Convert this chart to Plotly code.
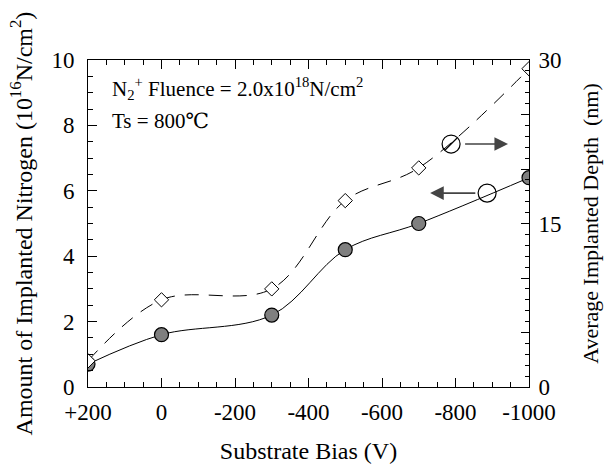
import plotly.graph_objects as go

# Substrate bias (V) and the two measured quantities
bias = [200, 0, -300, -500, -700, -1000]
nitrogen = [0.7, 1.6, 2.2, 4.2, 5.0, 6.4]          # 10^16 N/cm^2 (left axis)
depth = [2.4, 8.0, 9.0, 17.1, 20.1, 29.2]          # nm (right axis)

x_tickvals = [200, 0, -200, -400, -600, -800, -1000]
x_ticktext = ["+200", "0", "-200", "-400", "-600", "-800", "-1000"]
y2_tickvals = [0, 5, 10, 15, 20, 25, 30]
y2_ticktext = ["0", "", "", "15", "", "", "30"]

# key symbols showing which curve belongs to which axis
key_depth = (-788, 7.43)
key_nitro = (-886, 5.93)

FONT = "Liberation Serif, DejaVu Serif, serif"

fig = go.Figure()

fig.add_trace(go.Scatter(
    x=bias, y=depth, yaxis="y2", mode="lines+markers",
    line=dict(color="black", width=1, dash="14px,10px", shape="spline", smoothing=1.0),
    marker=dict(symbol="diamond", size=11, color="white",
                line=dict(color="black", width=1)),
    showlegend=False,
))
fig.add_trace(go.Scatter(
    x=bias, y=nitrogen, mode="lines+markers",
    line=dict(color="black", width=1, shape="spline", smoothing=1.0),
    marker=dict(symbol="circle", size=14, color="#7f7f7f",
                line=dict(color="black", width=1.2)),
    showlegend=False,
))

# open circles used as axis keys
fig.add_trace(go.Scatter(
    x=[key_depth[0], key_nitro[0]], y=[key_depth[1], key_nitro[1]],
    mode="markers",
    marker=dict(symbol="circle-open", size=18, color="black", line=dict(width=1.2)),
    showlegend=False, hoverinfo="skip",
))
fig.add_trace(go.Scatter(
    x=[key_depth[0]], y=[key_depth[1]], mode="markers",
    marker=dict(symbol="line-ne-open", size=12, color="black", line=dict(width=1.2)),
    showlegend=False, hoverinfo="skip",
))

annotations = [
    dict(x=-943, y=key_depth[1], ax=-822, ay=key_depth[1], xref="x", yref="y",
         axref="x", ayref="y", text="", showarrow=True, arrowhead=2,
         arrowsize=1.7, arrowwidth=1.6, arrowcolor="#444444"),
    dict(x=-731, y=key_nitro[1], ax=-858, ay=key_nitro[1], xref="x", yref="y",
         axref="x", ayref="y", text="", showarrow=True, arrowhead=2,
         arrowsize=1.7, arrowwidth=1.6, arrowcolor="#444444"),
    dict(x=0.05, y=0.914, xref="paper", yref="paper", xanchor="left", yanchor="middle",
         text="N<sub>2</sub><sup>+</sup> Fluence = 2.0x10<sup>18</sup>N/cm<sup>2</sup>",
         showarrow=False, font=dict(family=FONT, size=21, color="black")),
    dict(x=0.05, y=0.813, xref="paper", yref="paper", xanchor="left", yanchor="middle",
         text="Ts = 800℃", showarrow=False,
         font=dict(family=FONT, size=21, color="black")),
]

axis_common = dict(
    showgrid=False, zeroline=False, showline=True, linecolor="black", linewidth=1,
    ticks="inside", tickcolor="black", tickwidth=1, automargin=False,
    tickfont=dict(family=FONT, size=23, color="black"),
)

fig.update_layout(
    width=607, height=470,
    margin=dict(l=88, r=78, t=60, b=83),
    paper_bgcolor="white", plot_bgcolor="white",
    font=dict(family=FONT, color="black"),
    annotations=annotations,
    xaxis=dict(
        range=[200, -1000], tickvals=x_tickvals, ticktext=x_ticktext,
        ticklen=9, mirror="ticks", ticklabelstandoff=4,
        minor=dict(dtick=50, ticklen=5, ticks="inside", tickcolor="black", showgrid=False),
        title=dict(text="Substrate Bias (V)", font=dict(family=FONT, size=24), standoff=18),
        **axis_common,
    ),
    yaxis=dict(
        range=[0, 10], dtick=2, ticklen=9, ticklabelstandoff=8,
        minor=dict(dtick=0.5, ticklen=5, ticks="inside", tickcolor="black", showgrid=False),
        title=dict(text="Amount of Implanted Nitrogen (10<sup>16</sup>N/cm<sup>2</sup>)",
                   font=dict(family=FONT, size=24), standoff=12),
        **axis_common,
    ),
    yaxis2=dict(
        range=[0, 30], overlaying="y", side="right",
        tickvals=y2_tickvals, ticktext=y2_ticktext, ticklen=8, ticklabelstandoff=4,
        minor=dict(dtick=1, ticklen=4, ticks="inside", tickcolor="black", showgrid=False),
        title=dict(text="Average Implanted Depth  (nm)",
                   font=dict(family=FONT, size=22), standoff=22),
        **axis_common,
    ),
)

fig.write_html("out.html")
